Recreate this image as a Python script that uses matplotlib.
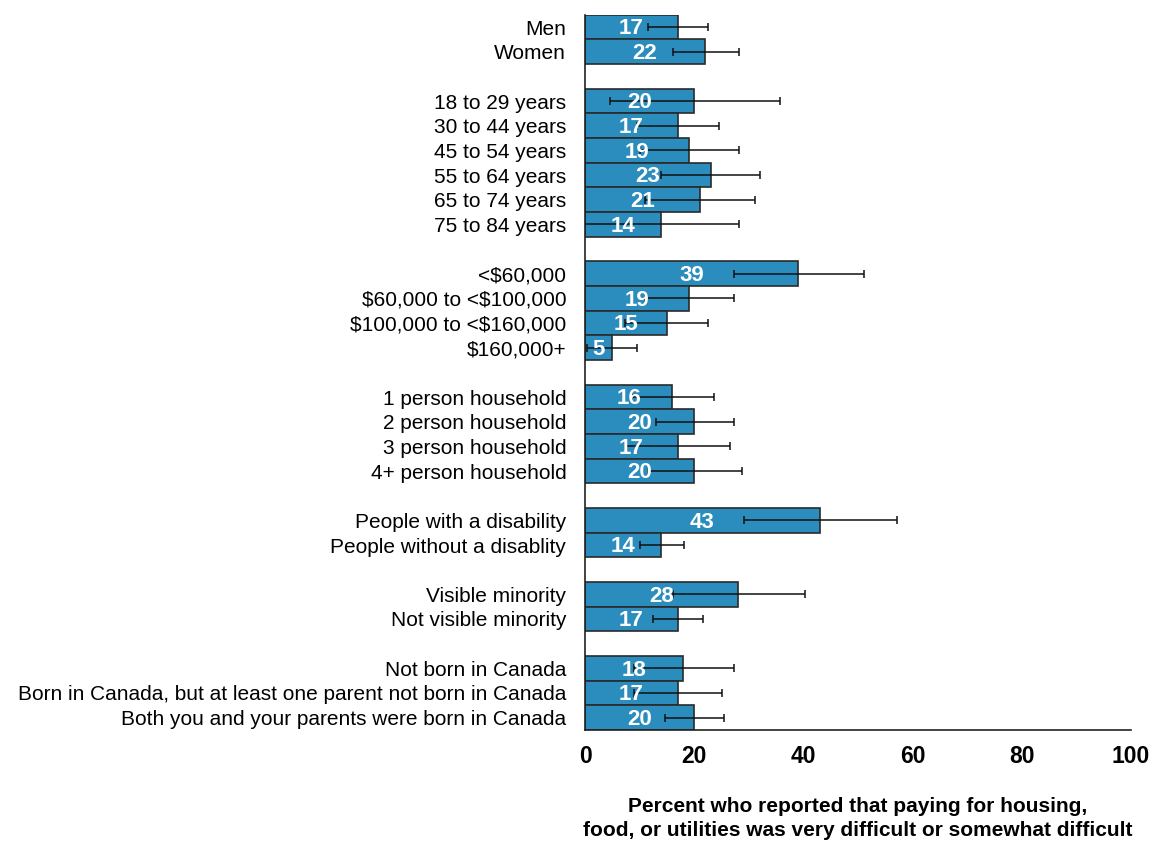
import matplotlib.pyplot as plt
import numpy as np

plt.rcParams['font.family'] = ['Liberation Sans', 'DejaVu Sans']
plt.rcParams['text.parse_math'] = False

# groups of categories, separated by a blank row on the chart
groups = [
    ['Men', 'Women'],
    ['18 to 29 years', '30 to 44 years', '45 to 54 years', '55 to 64 years',
     '65 to 74 years', '75 to 84 years'],
    ['<$60,000', '$60,000 to <$100,000', '$100,000 to <$160,000', '$160,000+'],
    ['1 person household', '2 person household', '3 person household',
     '4+ person household'],
    ['People with a disability', 'People without a disablity'],
    ['Visible minority', 'Not visible minority'],
    ['Not born in Canada', 'Born in Canada, but at least one parent not born in Canada',
     'Both you and your parents were born in Canada'],
]

values = [17, 22,
          20, 17, 19, 23, 21, 14,
          39, 19, 15, 5,
          16, 20, 17, 20,
          43, 14,
          28, 17,
          18, 17, 20]

ci_low = [11.5, 16.1,
          4.5, 9.6, 10.0, 13.9, 11.0, 0.0,
          27.2, 11.0, 7.4, 0.4,
          8.6, 13.0, 7.4, 11.5,
          29.1, 10.0,
          16.1, 12.5,
          9.0, 9.0, 14.7]

ci_high = [22.6, 28.2,
           35.7, 24.5, 28.2, 32.0, 31.1, 28.2,
           51.1, 27.2, 22.6, 9.6,
           23.6, 27.2, 26.5, 28.7,
           57.2, 18.1,
           40.3, 21.7,
           27.2, 25.1, 25.5]

# row positions: one empty slot between groups
labels = []
ypos = []
row = 0
for g in groups:
    for name in g:
        labels.append(name)
        ypos.append(row)
        row += 1
    row += 1
n_rows = row - 1

values = np.array(values)
err = np.array([values - np.array(ci_low), np.array(ci_high) - values])

fig = plt.figure(figsize=(11.55, 8.41), dpi=100)
ax = fig.add_axes([0.5065, 0.132, 0.4727, 0.8505])

ax.barh(ypos, values, height=1.0, color='#2b8cbe', edgecolor='#2a2a2a', linewidth=1.2)
ax.errorbar(values, ypos, xerr=err, fmt='none', ecolor='#111111',
            elinewidth=1.1, capsize=2.8, capthick=1.1)

# white value labels sit on top of the error bars
for y, v in zip(ypos, values):
    ax.text(v / 2, y + 0.07, str(v), color='white', fontweight='bold', fontsize=16,
            ha='center', va='center', zorder=5)

ax.set_ylim(n_rows - 0.5, -0.5)
ax.set_xlim(0, 100)
ax.set_yticks(ypos)
ax.set_yticklabels(labels, fontsize=15)
ax.set_xticks([0, 20, 40, 60, 80, 100])
ax.set_xticklabels(['0', '20', '40', '60', '80', '100'], fontsize=16.5, fontweight='bold')
ax.tick_params(axis='both', length=0)
ax.tick_params(axis='y', pad=13.5)
ax.tick_params(axis='x', pad=11)

for side in ['top', 'right']:
    ax.spines[side].set_visible(False)
for side in ['left', 'bottom']:
    ax.spines[side].set_color('#222222')
    ax.spines[side].set_linewidth(1.2)

ax.set_xlabel('Percent who reported that paying for housing,\n'
              'food, or utilities was very difficult or somewhat difficult',
              fontsize=15, fontweight='bold', labelpad=21, linespacing=1.3)

fig.savefig('out.png', dpi=100)
